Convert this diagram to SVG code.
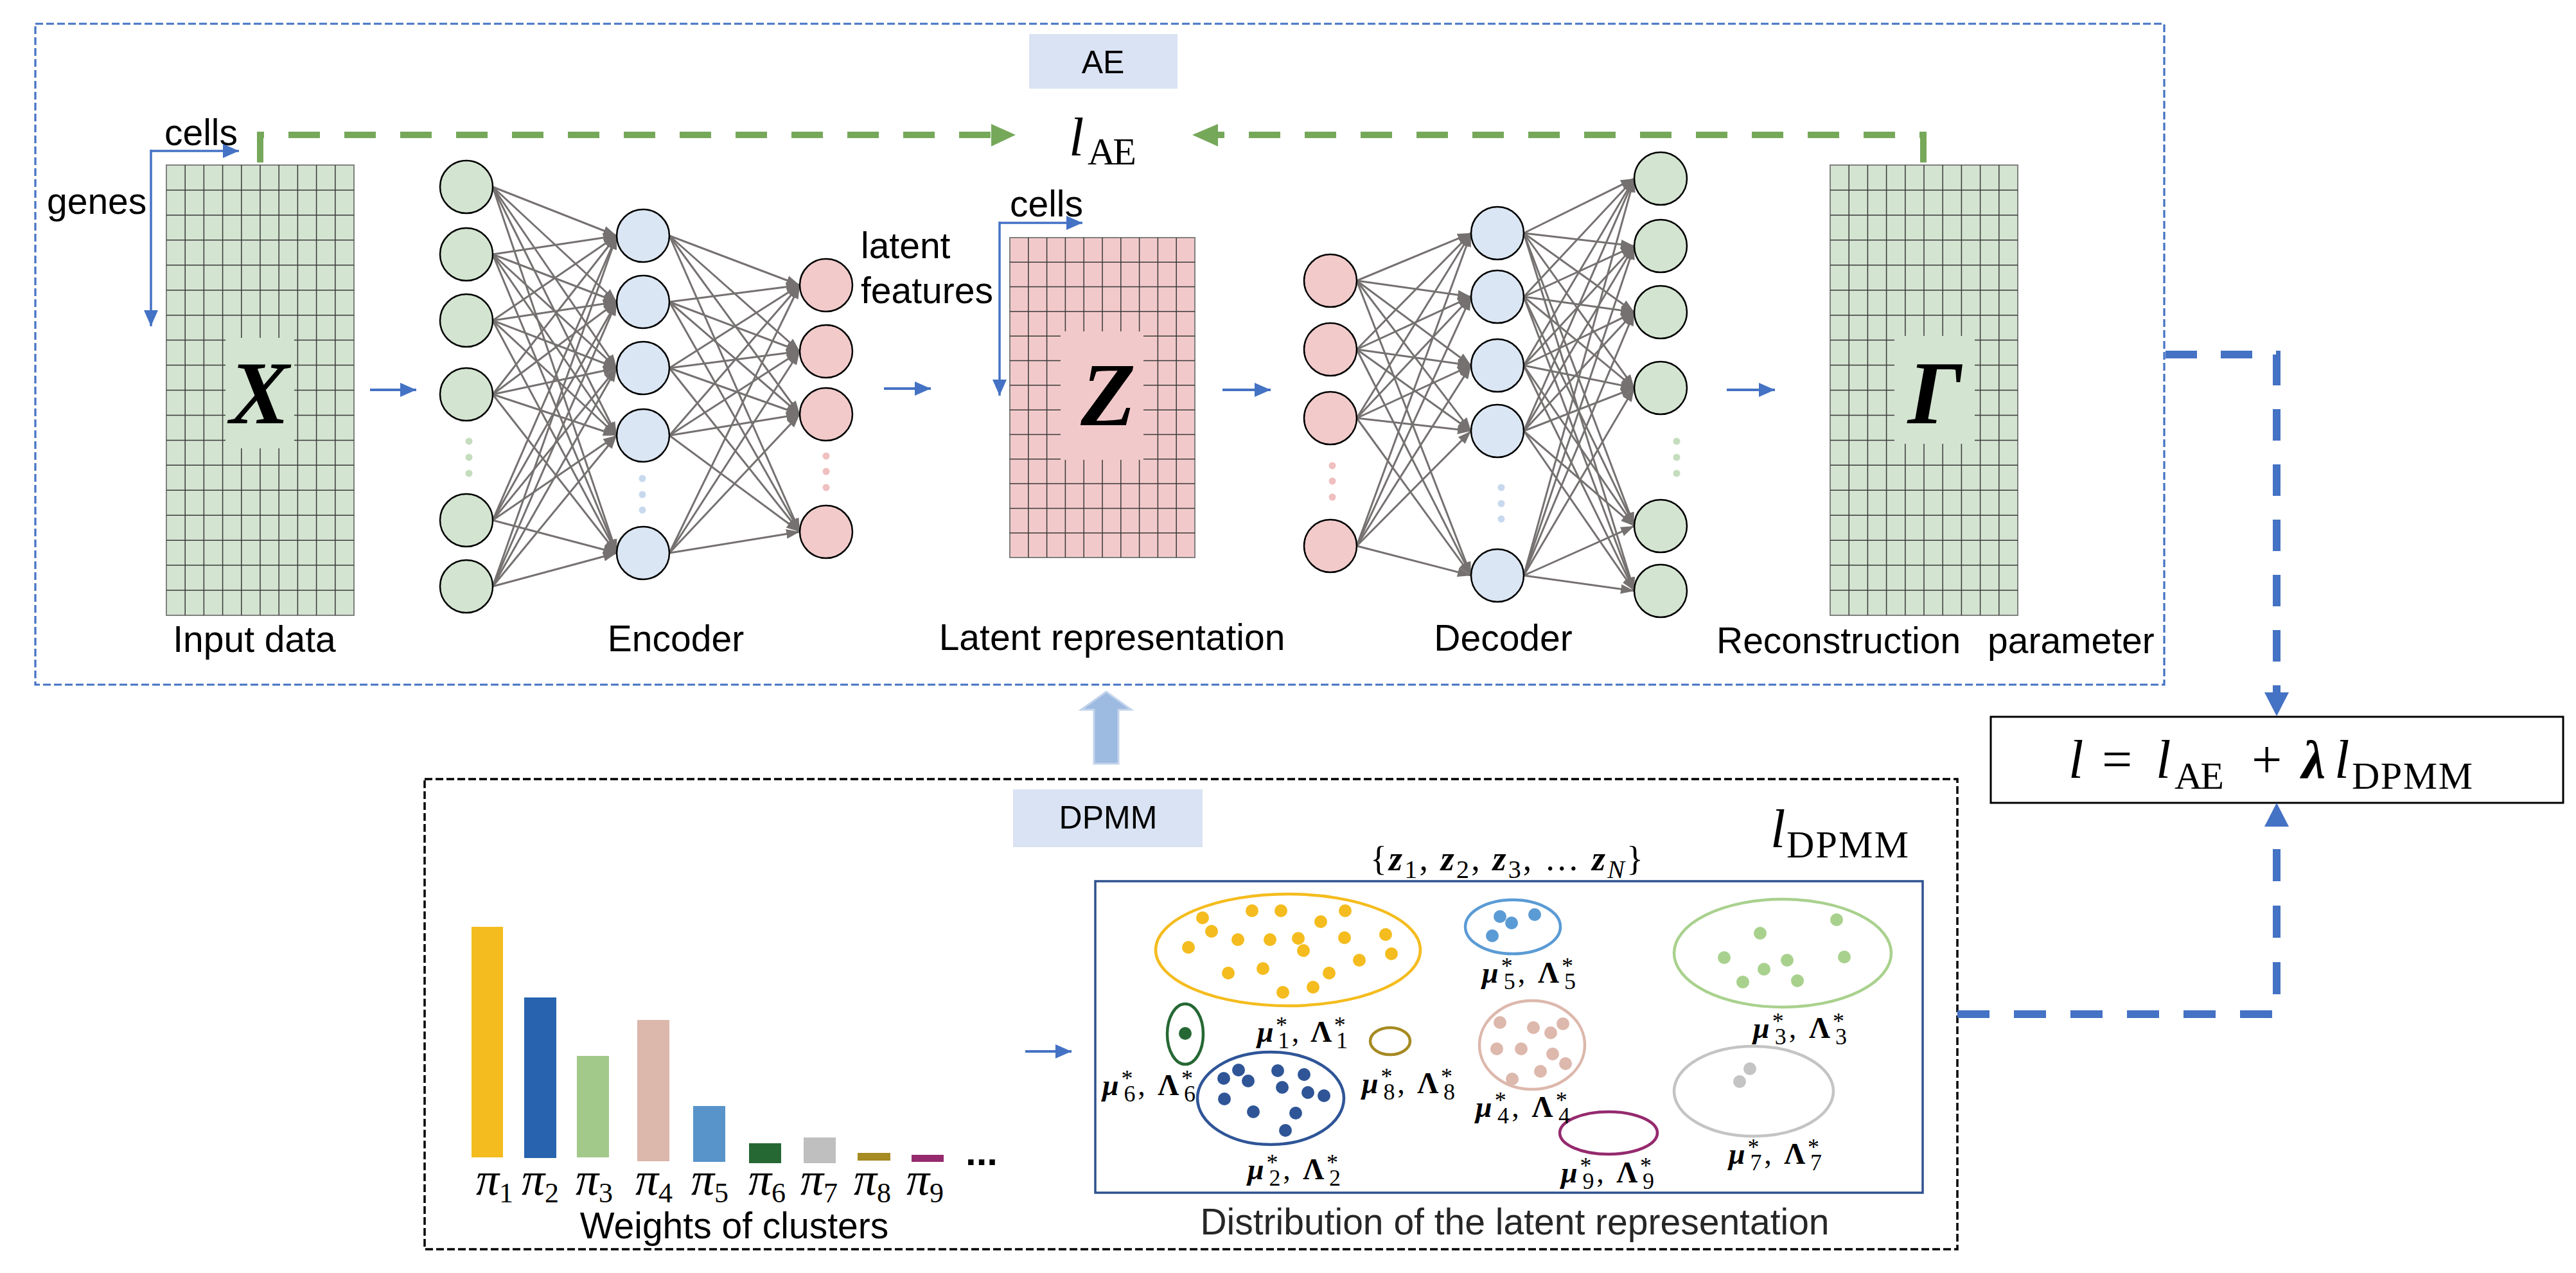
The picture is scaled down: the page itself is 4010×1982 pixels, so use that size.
<svg xmlns="http://www.w3.org/2000/svg" xmlns:xlink="http://www.w3.org/1999/xlink" width="4010" height="1982" viewBox="0 0 4010 1982">
<style>
.lbl{font-family:"Liberation Sans",Arial,sans-serif;font-size:57px;fill:#000}
.tag{font-family:"Liberation Sans",Arial,sans-serif;font-size:50px;fill:#000;text-anchor:middle}
.m{font-family:"Liberation Serif","Times New Roman",serif;fill:#000}
.it{font-style:italic}
.bi{font-style:italic;font-weight:bold}
.b{font-weight:bold}
.big{font-family:"Liberation Serif","Times New Roman",serif;font-style:italic;font-weight:bold;font-size:140px;text-anchor:middle}
.nG{fill:#D3E5D0;stroke:#000;stroke-width:2.5}
.nB{fill:#DAE6F3;stroke:#000;stroke-width:2.5}
.nP{fill:#F2CACA;stroke:#000;stroke-width:2.5}
.edge line{stroke:#767171;stroke-width:3;marker-end:url(#ah)}
.gl{stroke:#3A3A3A;stroke-width:1.5;fill:none}
.barrow{stroke:#4472C4;stroke-width:4;fill:none}
.mu{font-family:"Liberation Serif","Times New Roman",serif;font-size:46px}
.sp{font-size:36px;font-weight:normal;font-style:normal}
</style>
<defs>
<marker id="ah" markerUnits="userSpaceOnUse" markerWidth="22" markerHeight="16" refX="21" refY="7.5" orient="auto"><path d="M0,0 L21,7.5 L0,15 z" fill="#767171"/></marker>
<marker id="ba" markerUnits="userSpaceOnUse" markerWidth="26" markerHeight="24" refX="25" refY="11" orient="auto"><path d="M0,0 L25,11 L0,22 z" fill="#4472C4"/></marker>
<g id="grid18">
<rect x="0" y="0" width="292" height="701" fill="#D3E4D0" stroke="#808080" stroke-width="2"/>
<path class="gl" d="M29.2 0V701M58.4 0V701M87.6 0V701M116.8 0V701M146 0V701M175.2 0V701M204.4 0V701M233.6 0V701M262.8 0V701M0 38.9H292M0 77.9H292M0 116.8H292M0 155.8H292M0 194.7H292M0 233.7H292M0 272.6H292M0 311.6H292M0 350.5H292M0 389.4H292M0 428.4H292M0 467.3H292M0 506.3H292M0 545.2H292M0 584.2H292M0 623.1H292M0 662.1H292"/>
</g>
</defs>
<rect width="4010" height="1982" fill="#fff"/>

<!-- AE frame -->
<g id="ae-frame">
<rect x="55" y="37" width="3314" height="1029" fill="none" stroke="#4472C4" stroke-width="3.2" stroke-dasharray="12 5"/>
<rect x="1602" y="53" width="231" height="85" fill="#DAE3F3"/>
<text class="tag" x="1717" y="114">AE</text>
</g>

<!-- input data X -->
<g id="input-data">
<use href="#grid18" x="259" y="257"/>
<rect x="351" y="526" width="107" height="172" fill="#D3E4D0"/>
<text class="big" x="404" y="659">X</text>
<text class="lbl" x="256" y="226">cells</text>
<text class="lbl" x="73" y="333">genes</text>
<path class="barrow" d="M235 235H372" marker-end="url(#ba)" style="stroke-width:3.5"/>
<path class="barrow" d="M235 233V508" marker-end="url(#ba)" style="stroke-width:3.5"/>
<text class="lbl" x="396" y="1015" text-anchor="middle">Input data</text>
</g>

<!-- encoder -->
<g id="encoder">
<g class="edge">
<line x1="767" y1="291" x2="960" y2="367"/><line x1="767" y1="291" x2="960" y2="470"/><line x1="767" y1="291" x2="960" y2="573"/><line x1="767" y1="291" x2="960" y2="678"/><line x1="767" y1="291" x2="960" y2="861"/>
<line x1="767" y1="396" x2="960" y2="367"/><line x1="767" y1="396" x2="960" y2="470"/><line x1="767" y1="396" x2="960" y2="573"/><line x1="767" y1="396" x2="960" y2="678"/><line x1="767" y1="396" x2="960" y2="861"/>
<line x1="767" y1="499" x2="960" y2="367"/><line x1="767" y1="499" x2="960" y2="470"/><line x1="767" y1="499" x2="960" y2="573"/><line x1="767" y1="499" x2="960" y2="678"/><line x1="767" y1="499" x2="960" y2="861"/>
<line x1="767" y1="614" x2="960" y2="367"/><line x1="767" y1="614" x2="960" y2="470"/><line x1="767" y1="614" x2="960" y2="573"/><line x1="767" y1="614" x2="960" y2="678"/><line x1="767" y1="614" x2="960" y2="861"/>
<line x1="767" y1="810" x2="960" y2="367"/><line x1="767" y1="810" x2="960" y2="470"/><line x1="767" y1="810" x2="960" y2="573"/><line x1="767" y1="810" x2="960" y2="678"/><line x1="767" y1="810" x2="960" y2="861"/>
<line x1="767" y1="913" x2="960" y2="367"/><line x1="767" y1="913" x2="960" y2="470"/><line x1="767" y1="913" x2="960" y2="573"/><line x1="767" y1="913" x2="960" y2="678"/><line x1="767" y1="913" x2="960" y2="861"/>
<line x1="1042" y1="367" x2="1245" y2="444"/><line x1="1042" y1="367" x2="1245" y2="547"/><line x1="1042" y1="367" x2="1245" y2="645"/><line x1="1042" y1="367" x2="1245" y2="828"/>
<line x1="1042" y1="470" x2="1245" y2="444"/><line x1="1042" y1="470" x2="1245" y2="547"/><line x1="1042" y1="470" x2="1245" y2="645"/><line x1="1042" y1="470" x2="1245" y2="828"/>
<line x1="1042" y1="573" x2="1245" y2="444"/><line x1="1042" y1="573" x2="1245" y2="547"/><line x1="1042" y1="573" x2="1245" y2="645"/><line x1="1042" y1="573" x2="1245" y2="828"/>
<line x1="1042" y1="678" x2="1245" y2="444"/><line x1="1042" y1="678" x2="1245" y2="547"/><line x1="1042" y1="678" x2="1245" y2="645"/><line x1="1042" y1="678" x2="1245" y2="828"/>
<line x1="1042" y1="861" x2="1245" y2="444"/><line x1="1042" y1="861" x2="1245" y2="547"/><line x1="1042" y1="861" x2="1245" y2="645"/><line x1="1042" y1="861" x2="1245" y2="828"/>
</g>
<g class="nG"><circle cx="726" cy="291" r="41"/><circle cx="726" cy="396" r="41"/><circle cx="726" cy="499" r="41"/><circle cx="726" cy="614" r="41"/><circle cx="726" cy="810" r="41"/><circle cx="726" cy="913" r="41"/></g>
<g fill="#C5DDBE"><circle cx="730" cy="687" r="5.5"/><circle cx="730" cy="712" r="5.5"/><circle cx="730" cy="737" r="5.5"/></g>
<g class="nB"><circle cx="1001" cy="367" r="41"/><circle cx="1001" cy="470" r="41"/><circle cx="1001" cy="573" r="41"/><circle cx="1001" cy="678" r="41"/><circle cx="1001" cy="861" r="41"/></g>
<g fill="#C8D9EE"><circle cx="1000" cy="745" r="5.5"/><circle cx="1000" cy="770" r="5.5"/><circle cx="1000" cy="794" r="5.5"/></g>
<g class="nP"><circle cx="1286" cy="444" r="41"/><circle cx="1286" cy="547" r="41"/><circle cx="1286" cy="645" r="41"/><circle cx="1286" cy="828" r="41"/></g>
<g fill="#F0BFBF"><circle cx="1286" cy="710" r="5.5"/><circle cx="1286" cy="734" r="5.5"/><circle cx="1286" cy="759" r="5.5"/></g>
<text class="lbl" x="1052" y="1014" text-anchor="middle">Encoder</text>
</g>

<!-- latent Z -->
<g id="latent">
<rect x="1572" y="370" width="288" height="498" fill="#F2C9CA" stroke="#808080" stroke-width="2"/>
<path class="gl" d="M1600.8 370V868M1629.6 370V868M1658.4 370V868M1687.2 370V868M1716 370V868M1744.8 370V868M1773.6 370V868M1802.4 370V868M1831.2 370V868M1572 408.3H1860M1572 446.6H1860M1572 484.9H1860M1572 523.2H1860M1572 561.5H1860M1572 599.8H1860M1572 638.2H1860M1572 676.5H1860M1572 714.8H1860M1572 753.1H1860M1572 791.4H1860M1572 829.7H1860"/>
<rect x="1651" y="516" width="129" height="200" fill="#F2C9CA"/>
<text class="big" x="1725" y="662">Z</text>
<text class="lbl" x="1572" y="337">cells</text>
<path class="barrow" d="M1556 347H1685" marker-end="url(#ba)" style="stroke-width:3.5"/>
<path class="barrow" d="M1556 345V616" marker-end="url(#ba)" style="stroke-width:3.5"/>
<text class="lbl" x="1340" y="402">latent</text>
<text class="lbl" x="1340" y="472">features</text>
<text class="lbl" x="1731" y="1012" text-anchor="middle">Latent representation</text>
</g>

<!-- decoder -->
<g id="decoder">
<g class="edge">
<line x1="2112" y1="437" x2="2290" y2="363"/><line x1="2112" y1="437" x2="2290" y2="462"/><line x1="2112" y1="437" x2="2290" y2="569"/><line x1="2112" y1="437" x2="2290" y2="671"/><line x1="2112" y1="437" x2="2290" y2="896"/>
<line x1="2112" y1="544" x2="2290" y2="363"/><line x1="2112" y1="544" x2="2290" y2="462"/><line x1="2112" y1="544" x2="2290" y2="569"/><line x1="2112" y1="544" x2="2290" y2="671"/><line x1="2112" y1="544" x2="2290" y2="896"/>
<line x1="2112" y1="651" x2="2290" y2="363"/><line x1="2112" y1="651" x2="2290" y2="462"/><line x1="2112" y1="651" x2="2290" y2="569"/><line x1="2112" y1="651" x2="2290" y2="671"/><line x1="2112" y1="651" x2="2290" y2="896"/>
<line x1="2112" y1="850" x2="2290" y2="363"/><line x1="2112" y1="850" x2="2290" y2="462"/><line x1="2112" y1="850" x2="2290" y2="569"/><line x1="2112" y1="850" x2="2290" y2="671"/><line x1="2112" y1="850" x2="2290" y2="896"/>
<line x1="2372" y1="363" x2="2544" y2="278"/><line x1="2372" y1="363" x2="2544" y2="383"/><line x1="2372" y1="363" x2="2544" y2="486"/><line x1="2372" y1="363" x2="2544" y2="604"/><line x1="2372" y1="363" x2="2544" y2="819"/><line x1="2372" y1="363" x2="2544" y2="920"/>
<line x1="2372" y1="462" x2="2544" y2="278"/><line x1="2372" y1="462" x2="2544" y2="383"/><line x1="2372" y1="462" x2="2544" y2="486"/><line x1="2372" y1="462" x2="2544" y2="604"/><line x1="2372" y1="462" x2="2544" y2="819"/><line x1="2372" y1="462" x2="2544" y2="920"/>
<line x1="2372" y1="569" x2="2544" y2="278"/><line x1="2372" y1="569" x2="2544" y2="383"/><line x1="2372" y1="569" x2="2544" y2="486"/><line x1="2372" y1="569" x2="2544" y2="604"/><line x1="2372" y1="569" x2="2544" y2="819"/><line x1="2372" y1="569" x2="2544" y2="920"/>
<line x1="2372" y1="671" x2="2544" y2="278"/><line x1="2372" y1="671" x2="2544" y2="383"/><line x1="2372" y1="671" x2="2544" y2="486"/><line x1="2372" y1="671" x2="2544" y2="604"/><line x1="2372" y1="671" x2="2544" y2="819"/><line x1="2372" y1="671" x2="2544" y2="920"/>
<line x1="2372" y1="896" x2="2544" y2="278"/><line x1="2372" y1="896" x2="2544" y2="383"/><line x1="2372" y1="896" x2="2544" y2="486"/><line x1="2372" y1="896" x2="2544" y2="604"/><line x1="2372" y1="896" x2="2544" y2="819"/><line x1="2372" y1="896" x2="2544" y2="920"/>
</g>
<g class="nP"><circle cx="2071" cy="437" r="41"/><circle cx="2071" cy="544" r="41"/><circle cx="2071" cy="651" r="41"/><circle cx="2071" cy="850" r="41"/></g>
<g fill="#F0BFBF"><circle cx="2074" cy="725" r="5.5"/><circle cx="2074" cy="749" r="5.5"/><circle cx="2074" cy="774" r="5.5"/></g>
<g class="nB"><circle cx="2331" cy="363" r="41"/><circle cx="2331" cy="462" r="41"/><circle cx="2331" cy="569" r="41"/><circle cx="2331" cy="671" r="41"/><circle cx="2331" cy="896" r="41"/></g>
<g fill="#C8D9EE"><circle cx="2337" cy="759" r="5.5"/><circle cx="2337" cy="784" r="5.5"/><circle cx="2337" cy="808" r="5.5"/></g>
<g class="nG"><circle cx="2585" cy="278" r="41"/><circle cx="2585" cy="383" r="41"/><circle cx="2585" cy="486" r="41"/><circle cx="2585" cy="604" r="41"/><circle cx="2585" cy="819" r="41"/><circle cx="2585" cy="920" r="41"/></g>
<g fill="#C5DDBE"><circle cx="2610" cy="687" r="5.5"/><circle cx="2610" cy="712" r="5.5"/><circle cx="2610" cy="737" r="5.5"/></g>
<text class="lbl" x="2340" y="1013" text-anchor="middle">Decoder</text>
</g>

<!-- reconstruction -->
<g id="reconstruction">
<use href="#grid18" x="2849" y="257"/>
<rect x="2949" y="523" width="125" height="168" fill="#D3E4D0"/>
<text class="big" x="3012" y="659">Γ</text>
<text class="lbl" x="2672" y="1017">Reconstruction</text>
<text class="lbl" x="3094" y="1017">parameter</text>
</g>

<!-- l_AE -->
<g id="loss-ae">
<text class="m" y="242"><tspan class="it" x="1664" font-size="84">l</tspan><tspan x="1693" y="256" font-size="60" textLength="76">AE</tspan></text>
</g>

<!-- DPMM frame -->
<g id="dpmm-frame">
<rect x="661" y="1213" width="2386" height="732" fill="none" stroke="#000" stroke-width="3.5" stroke-dasharray="12 5"/>
<rect x="1577" y="1229" width="295" height="90" fill="#DAE3F3"/>
<text class="tag" x="1725" y="1290">DPMM</text>
<text class="m" y="1319"><tspan class="it" x="2756" font-size="84">l</tspan><tspan x="2781" y="1335" font-size="60" textLength="190">DPMM</tspan></text>
</g>

<!-- weights bar chart -->
<g id="weights">
<rect x="734" y="1443" width="49" height="359" fill="#F4BC1E"/>
<rect x="816" y="1553" width="50" height="250" fill="#2763AE"/>
<rect x="898" y="1644" width="50" height="158" fill="#A3C98A"/>
<rect x="992" y="1588" width="50" height="220" fill="#DBB7AC"/>
<rect x="1079" y="1722" width="50" height="87" fill="#5894C9"/>
<rect x="1166" y="1780" width="50" height="31" fill="#266834"/>
<rect x="1251" y="1771" width="50" height="40" fill="#BFBFBF"/>
<rect x="1335" y="1795" width="51" height="12" fill="#A68A22"/>
<rect x="1419" y="1798" width="50" height="11" fill="#952A6E"/>
<g class="m" font-size="72">
<text x="741" y="1860"><tspan class="it">π</tspan><tspan font-size="44" dy="12">1</tspan></text>
<text x="812" y="1860"><tspan class="it">π</tspan><tspan font-size="44" dy="12">2</tspan></text>
<text x="896" y="1860"><tspan class="it">π</tspan><tspan font-size="44" dy="12">3</tspan></text>
<text x="989" y="1860"><tspan class="it">π</tspan><tspan font-size="44" dy="12">4</tspan></text>
<text x="1076" y="1860"><tspan class="it">π</tspan><tspan font-size="44" dy="12">5</tspan></text>
<text x="1165" y="1860"><tspan class="it">π</tspan><tspan font-size="44" dy="12">6</tspan></text>
<text x="1246" y="1860"><tspan class="it">π</tspan><tspan font-size="44" dy="12">7</tspan></text>
<text x="1329" y="1860"><tspan class="it">π</tspan><tspan font-size="44" dy="12">8</tspan></text>
<text x="1411" y="1860"><tspan class="it">π</tspan><tspan font-size="44" dy="12">9</tspan></text>
</g>
<text x="1503" y="1814" font-family="Liberation Sans,Arial,sans-serif" font-weight="bold" font-size="60">...</text>
<text class="lbl" x="1143" y="1928" text-anchor="middle" font-size="58">Weights of clusters</text>
</g>

<!-- distribution -->
<g id="distribution">
<rect x="1705" y="1372" width="1288" height="485" fill="#fff" stroke="#2F528F" stroke-width="3.5"/>
<text class="m" x="2133" y="1355" font-size="54" textLength="425" lengthAdjust="spacing">{<tspan class="bi">z</tspan><tspan font-size="40" dy="12">1</tspan><tspan dy="-12">, </tspan><tspan class="bi">z</tspan><tspan font-size="40" dy="12">2</tspan><tspan dy="-12">, </tspan><tspan class="bi">z</tspan><tspan font-size="40" dy="12">3</tspan><tspan dy="-12">, … </tspan><tspan class="bi">z</tspan><tspan class="it" font-size="40" dy="12">N</tspan><tspan dy="-12">}</tspan></text>
<g fill="none" stroke-width="4.5">
<ellipse cx="2005" cy="1479" rx="206" ry="87" stroke="#F4BC1E"/>
<ellipse cx="1845" cy="1610" rx="28" ry="47" stroke="#266834"/>
<ellipse cx="1978" cy="1710" rx="114" ry="72" stroke="#2F5597"/>
<ellipse cx="2164" cy="1621" rx="31" ry="21" stroke="#A68A22"/>
<ellipse cx="2355" cy="1443" rx="74" ry="42" stroke="#5B9BD5"/>
<ellipse cx="2385" cy="1627" rx="82" ry="69" stroke="#DDB8AC"/>
<ellipse cx="2504" cy="1764" rx="76" ry="33" stroke="#952A6E"/>
<ellipse cx="2775" cy="1484" rx="169" ry="84" stroke="#A9D18E"/>
<ellipse cx="2730" cy="1699" rx="124" ry="70" stroke="#C4C4C4"/>
</g>
<g fill="#F4BC1E">
<circle cx="1872" cy="1429" r="10"/><circle cx="1949" cy="1418" r="10"/><circle cx="1994" cy="1418" r="10"/><circle cx="2094" cy="1418" r="10"/><circle cx="2056" cy="1435" r="10"/><circle cx="1886" cy="1450" r="10"/><circle cx="1850" cy="1475" r="10"/><circle cx="1927" cy="1463" r="10"/><circle cx="1977" cy="1463" r="10"/><circle cx="2021" cy="1461" r="10"/><circle cx="2093" cy="1460" r="10"/><circle cx="2157" cy="1455" r="10"/><circle cx="2029" cy="1480" r="10"/><circle cx="2166" cy="1485" r="10"/><circle cx="2116" cy="1495" r="10"/><circle cx="1912" cy="1515" r="10"/><circle cx="1966" cy="1508" r="10"/><circle cx="2069" cy="1515" r="10"/><circle cx="1997" cy="1545" r="10"/><circle cx="2044" cy="1537" r="10"/>
</g>
<circle cx="1845" cy="1609" r="10" fill="#266834"/>
<g fill="#2F5597">
<circle cx="1905" cy="1679" r="10"/><circle cx="1928" cy="1666" r="10"/><circle cx="1943" cy="1683" r="10"/><circle cx="1906" cy="1711" r="10"/><circle cx="1989" cy="1667" r="10"/><circle cx="2030" cy="1673" r="10"/><circle cx="1996" cy="1693" r="10"/><circle cx="2036" cy="1701" r="10"/><circle cx="2061" cy="1706" r="10"/><circle cx="1951" cy="1731" r="10"/><circle cx="2017" cy="1733" r="10"/><circle cx="2001" cy="1760" r="10"/>
</g>
<g fill="#5B9BD5"><circle cx="2323" cy="1457" r="10"/><circle cx="2335" cy="1427" r="10"/><circle cx="2353" cy="1437" r="10"/><circle cx="2389" cy="1424" r="10"/></g>
<g fill="#DDB8AC"><circle cx="2335" cy="1592" r="10"/><circle cx="2330" cy="1633" r="10"/><circle cx="2368" cy="1633" r="10"/><circle cx="2354" cy="1680" r="10"/><circle cx="2387" cy="1600" r="10"/><circle cx="2433" cy="1594" r="10"/><circle cx="2414" cy="1608" r="10"/><circle cx="2417" cy="1641" r="10"/><circle cx="2437" cy="1656" r="10"/><circle cx="2398" cy="1668" r="10"/></g>
<g fill="#A9D18E"><circle cx="2859" cy="1432" r="10"/><circle cx="2740" cy="1453" r="10"/><circle cx="2684" cy="1491" r="10"/><circle cx="2782" cy="1495" r="10"/><circle cx="2871" cy="1490" r="10"/><circle cx="2746" cy="1509" r="10"/><circle cx="2713" cy="1529" r="10"/><circle cx="2798" cy="1527" r="10"/></g>
<g fill="#C4C4C4"><circle cx="2724" cy="1664" r="10"/><circle cx="2708" cy="1684" r="10"/></g>
<g class="mu">
<text x="1957" y="1622" textLength="141"><tspan class="bi">μ</tspan><tspan class="sp" dy="-14">*</tspan><tspan class="sp" dx="-18" dy="24">1</tspan><tspan dy="-10">, </tspan><tspan class="b">Λ</tspan><tspan class="sp" dy="-14">*</tspan><tspan class="sp" dx="-18" dy="24">1</tspan></text>
<text x="1942" y="1836" textLength="145"><tspan class="bi">μ</tspan><tspan class="sp" dy="-14">*</tspan><tspan class="sp" dx="-18" dy="24">2</tspan><tspan dy="-10">, </tspan><tspan class="b">Λ</tspan><tspan class="sp" dy="-14">*</tspan><tspan class="sp" dx="-18" dy="24">2</tspan></text>
<text x="2729" y="1616" textLength="146"><tspan class="bi">μ</tspan><tspan class="sp" dy="-14">*</tspan><tspan class="sp" dx="-18" dy="24">3</tspan><tspan dy="-10">, </tspan><tspan class="b">Λ</tspan><tspan class="sp" dy="-14">*</tspan><tspan class="sp" dx="-18" dy="24">3</tspan></text>
<text x="2297" y="1739" textLength="147"><tspan class="bi">μ</tspan><tspan class="sp" dy="-14">*</tspan><tspan class="sp" dx="-18" dy="24">4</tspan><tspan dy="-10">, </tspan><tspan class="b">Λ</tspan><tspan class="sp" dy="-14">*</tspan><tspan class="sp" dx="-18" dy="24">4</tspan></text>
<text x="2307" y="1530" textLength="146"><tspan class="bi">μ</tspan><tspan class="sp" dy="-14">*</tspan><tspan class="sp" dx="-18" dy="24">5</tspan><tspan dy="-10">, </tspan><tspan class="b">Λ</tspan><tspan class="sp" dy="-14">*</tspan><tspan class="sp" dx="-18" dy="24">5</tspan></text>
<text x="1716" y="1705" textLength="145"><tspan class="bi">μ</tspan><tspan class="sp" dy="-14">*</tspan><tspan class="sp" dx="-18" dy="24">6</tspan><tspan dy="-10">, </tspan><tspan class="b">Λ</tspan><tspan class="sp" dy="-14">*</tspan><tspan class="sp" dx="-18" dy="24">6</tspan></text>
<text x="2691" y="1812" textLength="145"><tspan class="bi">μ</tspan><tspan class="sp" dy="-14">*</tspan><tspan class="sp" dx="-18" dy="24">7</tspan><tspan dy="-10">, </tspan><tspan class="b">Λ</tspan><tspan class="sp" dy="-14">*</tspan><tspan class="sp" dx="-18" dy="24">7</tspan></text>
<text x="2120" y="1702" textLength="145"><tspan class="bi">μ</tspan><tspan class="sp" dy="-14">*</tspan><tspan class="sp" dx="-18" dy="24">8</tspan><tspan dy="-10">, </tspan><tspan class="b">Λ</tspan><tspan class="sp" dy="-14">*</tspan><tspan class="sp" dx="-18" dy="24">8</tspan></text>
<text x="2430" y="1841" textLength="145"><tspan class="bi">μ</tspan><tspan class="sp" dy="-14">*</tspan><tspan class="sp" dx="-18" dy="24">9</tspan><tspan dy="-10">, </tspan><tspan class="b">Λ</tspan><tspan class="sp" dy="-14">*</tspan><tspan class="sp" dx="-18" dy="24">9</tspan></text>
</g>
<text class="lbl" x="2358" y="1922" text-anchor="middle" font-size="58" style="fill:#262626">Distribution of the latent representation</text>
</g>

<!-- total loss -->
<g id="total-loss">
<rect x="3099" y="1116" width="891" height="134" fill="#fff" stroke="#000" stroke-width="3"/>
<text class="m" y="1211" font-size="84"><tspan class="it" x="3220">l</tspan><tspan x="3272">=</tspan><tspan class="it" x="3356">l</tspan><tspan x="3385" y="1228" font-size="60" textLength="77">AE</tspan><tspan x="3505" y="1211">+</tspan><tspan class="bi" x="3583">λ</tspan><tspan class="it" x="3634">l</tspan><tspan x="3661" y="1228" font-size="60" textLength="188">DPMM</tspan></text>
</g>

<!-- connectors -->
<g id="connectors">
<path d="M405 253V210H1543" fill="none" stroke="#76A85A" stroke-width="10" stroke-dasharray="49 38"/>
<polygon points="1543,193 1581,210 1543,228" fill="#76A85A"/>
<path d="M2994 253V210H1896" fill="none" stroke="#76A85A" stroke-width="10" stroke-dasharray="49 38"/>
<polygon points="1896,193 1856,210 1896,228" fill="#76A85A"/>
<path class="barrow" d="M576 607H648" marker-end="url(#ba)"/>
<path class="barrow" d="M1376 605H1449" marker-end="url(#ba)"/>
<path class="barrow" d="M1903 607H1978" marker-end="url(#ba)"/>
<path class="barrow" d="M2688 607H2763" marker-end="url(#ba)"/>
<path class="barrow" d="M1596 1637H1668" marker-end="url(#ba)"/>
<polygon points="1722,1077 1761,1105 1741,1105 1741,1189 1703,1189 1703,1105 1683,1105" fill="#9DBAE0" stroke="#C3D4EC" stroke-width="3"/>
<path d="M3371 552H3544V1078" fill="none" stroke="#4472C4" stroke-width="12" stroke-dasharray="49 37"/>
<polygon points="3525,1078 3563,1078 3544,1115" fill="#4472C4"/>
<path d="M3047 1579H3544V1287" fill="none" stroke="#4472C4" stroke-width="12" stroke-dasharray="50 38"/>
<polygon points="3525,1287 3563,1287 3544,1250" fill="#4472C4"/>
</g>
</svg>
